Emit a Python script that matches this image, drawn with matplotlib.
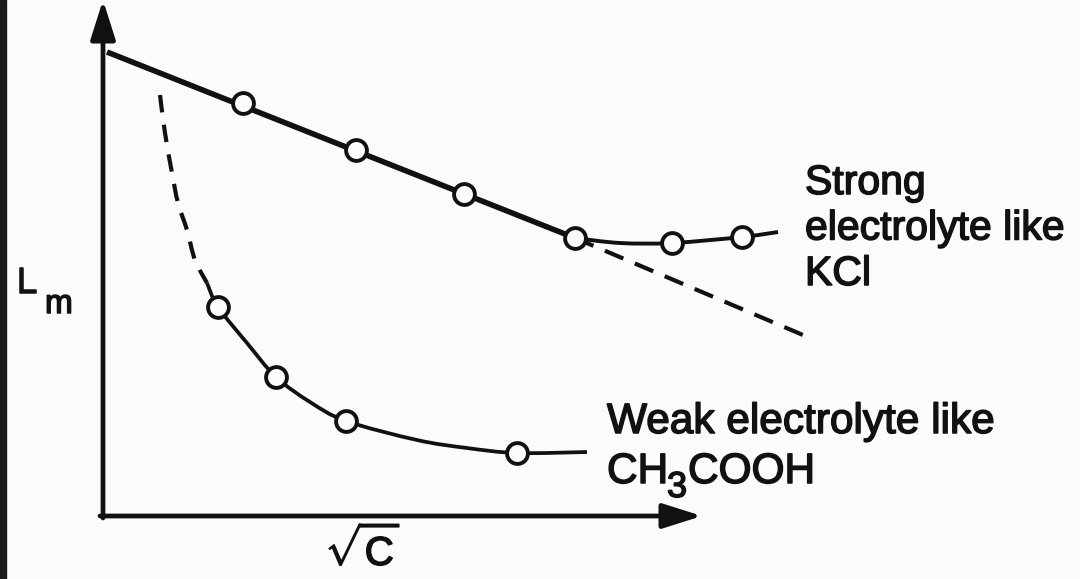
import numpy as np
import matplotlib
matplotlib.use("Agg")
import matplotlib.pyplot as plt
import matplotlib.patheffects as pe
from matplotlib.path import Path
from matplotlib.patches import PathPatch, Rectangle

plt.rcParams["font.family"] = ["Liberation Sans", "DejaVu Sans"]
plt.rcParams["mathtext.fontset"] = "custom"
plt.rcParams["mathtext.rm"] = "Liberation Sans"
plt.rcParams["mathtext.it"] = "Liberation Sans"

# schematic values (arbitrary units, origin at the axis corner)
strong_start = (4, 464)
strong_x = [140, 253, 361, 472, 569, 639]
strong_y = [413, 366, 322, 278, 273, 279]
strong_curve_x = [472, 517, 569, 639, 675]
strong_curve_y = [278, 273, 273, 279, 284]
strong_dash_x = [472, 707]
strong_dash_y = [278, 178]

weak_dash_x = [57, 62, 69, 75, 84, 92, 104]
weak_dash_y = [421, 383, 343, 313, 286, 256, 233]
weak_curve_x = [104, 115, 144, 173, 207, 243, 314, 364, 414, 484]
weak_curve_y = [233, 209, 173, 139, 114, 95, 76, 68, 63, 64]
weak_x = [115, 173, 243, 414]
weak_y = [209, 139, 95, 63]

BG = "#fbfbfb"
INK = "#111111"
heavy = [pe.withStroke(linewidth=1.1, foreground=INK)]


def smooth_path(xs, ys):
    P = np.column_stack([xs, ys]).astype(float)
    verts = [P[0]]
    codes = [Path.MOVETO]
    for i in range(len(P) - 1):
        p0 = P[i - 1] if i > 0 else P[i]
        p3 = P[i + 2] if i + 2 < len(P) else P[i + 1]
        verts += [P[i] + (P[i + 1] - p0) / 6, P[i + 1] - (p3 - P[i]) / 6, P[i + 1]]
        codes += [Path.CURVE4] * 3
    return Path(verts, codes)


fig = plt.figure(figsize=(10.8, 5.79), dpi=100, facecolor=BG)
ax = fig.add_axes([0, 0, 1, 1])
ax.set_xlim(-103, 977)
ax.set_ylim(-63, 516)
ax.axis("off")
fig.patches.append(Rectangle((0, 0), 6 / 1080, 1, transform=fig.transFigure, color="#1a1a1a"))

# axes arrows
arr = dict(arrowstyle="-|>,head_length=1.2,head_width=0.38", mutation_scale=20,
           lw=3.4, color=INK, shrinkA=0, shrinkB=0)
ax.annotate("", xy=(0, 516), xytext=(0, -2), arrowprops=arr)
ax.annotate("", xy=(599, 0), xytext=(-3, 0), arrowprops=arr)

# strong electrolyte
ax.plot([strong_start[0], strong_x[3]], [strong_start[1], strong_y[3]], color=INK, lw=4.0,
        solid_capstyle="butt", zorder=2)
ax.add_patch(PathPatch(smooth_path(strong_curve_x, strong_curve_y), fc="none", ec=INK, lw=2.8, zorder=2))
ax.plot(strong_dash_x, strong_dash_y, color=INK, lw=3.0, ls=(0, (4.8, 3.0)), zorder=1)
ax.plot(strong_x, strong_y, ls="none", marker="o", ms=15, mfc=BG, mec=INK, mew=2.8, zorder=3)

# weak electrolyte
ax.add_patch(PathPatch(smooth_path(weak_dash_x, weak_dash_y), fc="none", ec=INK, lw=3.0,
                       ls=(0, (4.2, 3.0)), zorder=1))
ax.add_patch(PathPatch(smooth_path(weak_curve_x, weak_curve_y), fc="none", ec=INK, lw=2.7, zorder=2))
ax.plot(weak_x, weak_y, ls="none", marker="o", ms=15, mfc=BG, mec=INK, mew=2.8, zorder=3)

# labels
txt = dict(color=INK, va="baseline", ha="left", path_effects=heavy)
ax.text(702, 231, "Strong\nelectrolyte like\nKCl", fontsize=29.5, linespacing=1.25, **txt)
ax.text(504, 83, "Weak electrolyte like", fontsize=30.5, **txt)
ax.text(504, 33, "CH", fontsize=30.5, **txt)
ax.text(564, 19, "3", fontsize=26, **txt)
ax.text(585, 33, "COOH", fontsize=30.5, **txt)
ax.text(-86, 223, "L", fontsize=26, **txt)
ax.text(-58, 203, "m", fontsize=24, **txt)
ax.text(260, -33, r"$\sqrt{\mathrm{C}}$", fontsize=29, color=INK, ha="center", va="center",
        path_effects=heavy)

fig.savefig("out.png", dpi=100, facecolor=BG)
